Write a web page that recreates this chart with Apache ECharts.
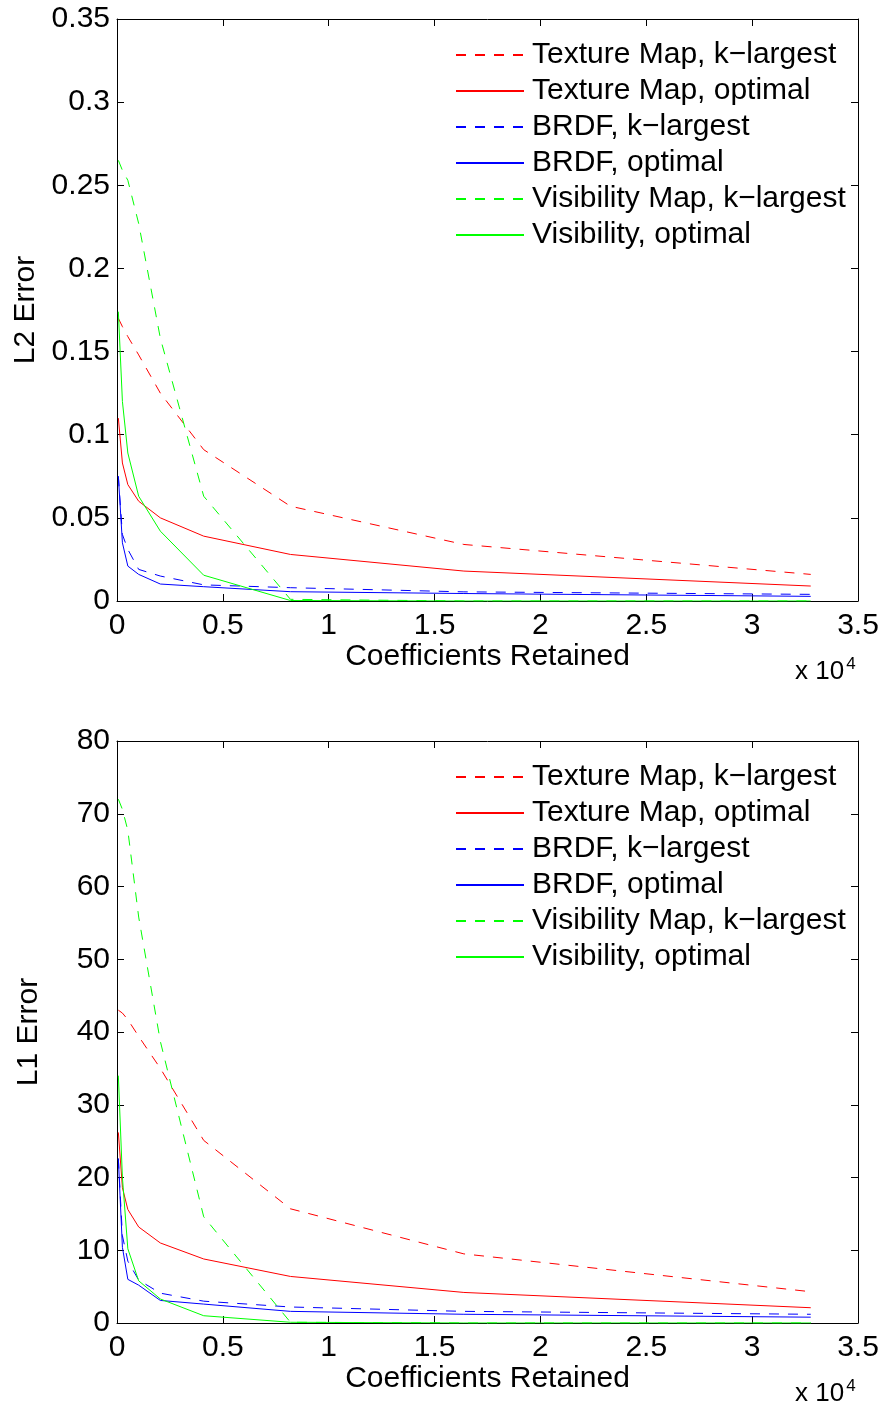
<!DOCTYPE html>
<html>
<head>
<meta charset="utf-8">
<script src="https://cdn.jsdelivr.net/npm/echarts@6/dist/echarts.min.js"></script>
<style>
html,body{margin:0;padding:0;background:#fff;}
#c{width:883px;height:1408px;}
</style>
</head>
<body>
<div id="c"></div>
<script>
// Coefficients retained (x values)
const coeffs = [64, 256, 512, 1024, 2048, 4096, 8192, 16384, 32768];
const seriesNames = ['Texture Map, k\u2212largest', 'Texture Map, optimal', 'BRDF, k\u2212largest', 'BRDF, optimal', 'Visibility Map, k\u2212largest', 'Visibility, optimal'];

// L2 error (top panel)
const texKL2  = [0.170, 0.165, 0.159, 0.148, 0.125, 0.091, 0.057, 0.034, 0.016];
const texOL2  = [0.110, 0.083, 0.070, 0.060, 0.050, 0.039, 0.028, 0.018, 0.009];
const brdfKL2 = [0.075, 0.040, 0.031, 0.019, 0.015, 0.0097, 0.0080, 0.0055, 0.0040];
const brdfOL2 = [0.075, 0.035, 0.021, 0.016, 0.0102, 0.0086, 0.0056, 0.0045, 0.0028];
const visKL2  = [0.265, 0.259, 0.253, 0.227, 0.158, 0.063, 0.001, 0, 0];
const visOL2  = [0.174, 0.120, 0.089, 0.063, 0.042, 0.0155, 0.0003, 0, 0];

// L1 error (bottom panel)
const texKL1  = [43.0, 42.6, 41.7, 39.4, 35.0, 25.1, 15.7, 9.5, 4.3];
const texOL1  = [26.2, 18.6, 15.6, 13.2, 11.0, 8.8, 6.4, 4.2, 2.1];
const brdfKL1 = [22.6, 12.0, 8.5, 5.9, 4.1, 3.0, 2.2, 1.6, 1.2];
const brdfOL1 = [22.6, 10.4, 6.0, 5.2, 3.1, 2.6, 1.6, 1.2, 0.8];
const visKL1  = [72.0, 70.6, 67.7, 55.8, 38.7, 14.6, 0.1, 0, 0];
const visOL1  = [34.0, 20.0, 10.2, 5.8, 3.3, 1.0, 0.1, 0, 0];

const colors = ['#ff0000', '#ff0000', '#0000ff', '#0000ff', '#00ff00', '#00ff00'];
const dashed = [true, false, true, false, true, false];
const FONT = 'Liberation Sans';
const FS = 30;

function pairs(ys) { return coeffs.map((x, i) => [x, ys[i]]); }

function mkSeries(dataSets, gi) {
  return dataSets.map((ys, i) => ({
    type: 'line',
    name: seriesNames[i],
    xAxisIndex: gi * 2,
    yAxisIndex: gi * 2,
    data: pairs(ys),
    symbol: 'none',
    showSymbol: false,
    animation: false,
    color: colors[i],
    lineStyle: { color: colors[i], width: 1, type: dashed[i] ? [10, 9] : 'solid' }
  }));
}

const tick = { show: true, inside: true, length: 7, lineStyle: { color: '#000', width: 1 } };
const line = { show: true, onZero: false, lineStyle: { color: '#000', width: 1 } };
const lbl = { fontFamily: FONT, fontSize: FS, color: '#000' };

function xAxes(gi) {
  return [
    { type: 'value', gridIndex: gi, min: 0, max: 35000, interval: 5000, position: 'bottom',
      axisLine: line, axisTick: tick, splitLine: { show: false },
      axisLabel: Object.assign({ margin: 10, formatter: v => String(+(v / 10000).toFixed(2)) }, lbl),
      name: 'Coefficients Retained', nameLocation: 'middle', nameGap: 40,
      nameTextStyle: { fontFamily: FONT, fontSize: FS, color: '#000' } },
    { type: 'value', gridIndex: gi, min: 0, max: 35000, interval: 5000, position: 'top',
      axisLine: line, axisTick: tick, splitLine: { show: false }, axisLabel: { show: false } }
  ];
}
function yAxes(gi, max, interval, nm, dec) {
  return [
    { type: 'value', gridIndex: gi, min: 0, max: max, interval: interval, position: 'left',
      axisLine: line, axisTick: tick, splitLine: { show: false },
      axisLabel: Object.assign({ margin: 7, formatter: v => String(+v.toFixed(dec)) }, lbl),
      name: nm, nameLocation: 'middle', nameGap: 73, nameRotate: 90,
      nameTextStyle: { fontFamily: FONT, fontSize: FS, color: '#000' } },
    { type: 'value', gridIndex: gi, min: 0, max: max, interval: interval, position: 'right',
      axisLine: line, axisTick: tick, splitLine: { show: false }, axisLabel: { show: false } }
  ];
}

function legendFor(top) {
  return {
    orient: 'vertical', left: 455, top: top, padding: 0,
    itemWidth: 68, itemHeight: 14, itemGap: 6,
    itemStyle: { opacity: 0 },
    textStyle: { fontFamily: FONT, fontSize: FS, color: '#000', lineHeight: 30, padding: [0, 0, 0, 3] },
    data: seriesNames,
    selectedMode: false
  };
}

const supTitle = (top) => ({
  text: 'x 10{s|4}', left: 790, top: top,
  textStyle: { fontFamily: FONT, fontSize: 26, fontWeight: 'normal', color: '#000',
    rich: { s: { fontFamily: FONT, fontSize: 17, verticalAlign: 'top', padding: [0, 0, 14, 2] } } }
});

const chart = echarts.init(document.getElementById('c'), null, { renderer: 'canvas' });
chart.setOption({
  backgroundColor: '#fff',
  animation: false,
  grid: [
    { left: 117, top: 19, width: 741, height: 582 },
    { left: 117, top: 741, width: 741, height: 582 }
  ],
  xAxis: xAxes(0).concat(xAxes(1)),
  yAxis: yAxes(0, 0.35, 0.05, 'L2 Error', 2).concat(yAxes(1, 80, 10, 'L1 Error', 0)),
  legend: [legendFor(40), legendFor(762)],
  title: [supTitle(651), supTitle(1373)],
  series: mkSeries([texKL2, texOL2, brdfKL2, brdfOL2, visKL2, visOL2], 0)
    .concat(mkSeries([texKL1, texOL1, brdfKL1, brdfOL1, visKL1, visOL1], 1))
});
</script>
</body>
</html>
